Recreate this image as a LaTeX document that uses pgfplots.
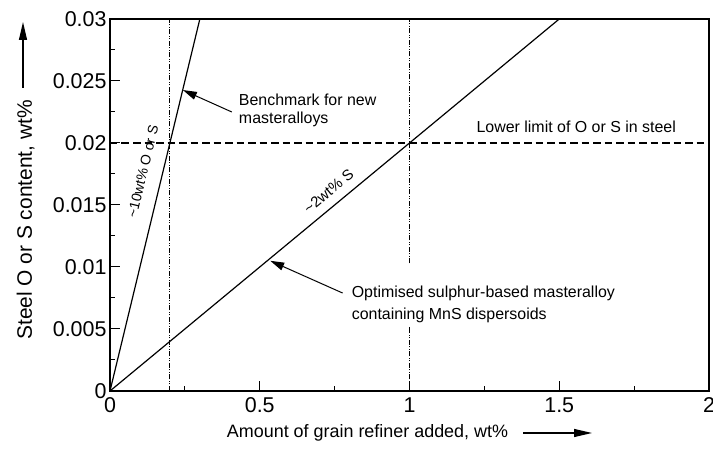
\documentclass[border=0pt]{standalone}
\usepackage{fontspec}
\setmainfont{Liberation Sans}
\usepackage{pgfplots}
\pgfplotsset{compat=1.18}
\usetikzlibrary{arrows.meta}

\begin{document}
\begin{tikzpicture}
\begin{axis}[
  name=ax,
  scale only axis,
  width=599bp, height=372bp,
  xmin=0, xmax=2, ymin=0, ymax=0.03,
  xtick={0,0.5,1,1.5,2}, xticklabels={0,0.5,1,1.5,2},
  ytick={0,0.005,0.01,0.015,0.02,0.025,0.03},
  yticklabels={0,0.005,0.01,0.015,0.02,0.025,0.03},
  scaled y ticks=false, scaled x ticks=false,
  minor x tick num=1, minor y tick num=1,
  tick align=inside, xtick pos=bottom, ytick pos=left,
  major tick length=10bp, minor tick length=5bp,
  tick style={line width=1bp, black},
  axis line style={line width=1.3bp},
  ticklabel style={font=\fontsize{21.5}{24}\selectfont},
  xticklabel style={yshift=-3bp},
  /pgf/number format/assume math mode=true,
  clip=false,
]
% grain-refiner lines through the origin
\addplot[black, line width=1.2bp] coordinates {(0,0) (0.3,0.03)};
\addplot[black, line width=1.2bp] coordinates {(0,0) (1.5,0.03)};
% lower limit of O or S
\addplot[black, line width=1.1bp, dash pattern=on 7.5bp off 4bp] coordinates {(0,0.02) (2,0.02)};
% required additions
\addplot[black, line width=1.1bp, dash pattern=on 5bp off 1.5bp on 1bp off 1.5bp on 1bp off 1.5bp] coordinates {(0.2,0) (0.2,0.03)};
\addplot[black, line width=1.1bp, dash pattern=on 5bp off 1.5bp on 1bp off 1.5bp on 1bp off 1.5bp] coordinates {(1,0) (1,0.0052)};
\addplot[black, line width=1.1bp, dash pattern=on 5bp off 1.5bp on 1bp off 1.5bp on 1bp off 1.5bp] coordinates {(1,0.0103) (1,0.03)};

% annotations
\node[anchor=west, align=left, inner sep=0, font=\fontsize{16}{18}\selectfont]
  at (axis cs:0.43,0.02266) {Benchmark for new\\masteralloys};
\draw[black, line width=1bp, -{Triangle[length=14bp,width=8bp]}]
  (axis cs:0.4067,0.0225) -- (axis cs:0.2433,0.02427);
\node[anchor=base west, inner sep=0, font=\fontsize{16}{18}\selectfont]
  at (axis cs:1.2233,0.020806) {Lower limit of O or S in steel};
\node[anchor=north west, align=left, inner sep=0, font=\fontsize{16}{22}\selectfont]
  at (axis cs:0.8067,0.00848) {Optimised sulphur-based masteralloy\\containing MnS dispersoids};
\draw[black, line width=1bp, -{Triangle[length=14bp,width=8bp]}]
  (axis cs:0.7767,0.0079) -- (axis cs:0.535,0.0105);
\node[rotate=76.4, inner sep=0, font=\fontsize{14}{16}\selectfont]
  at (axis cs:0.11,0.0177) {\textasciitilde10wt\% O or S};
\node[rotate=39.6, inner sep=0, font=\fontsize{15}{17}\selectfont]
  at (axis cs:0.73,0.0161) {\textasciitilde2wt\% S};
\end{axis}

\begin{scope}[shift={(ax.south west)}, x=1bp, y=-1bp, shift={(-110,-391)}]
  \node[rotate=90, anchor=base, inner sep=0, font=\fontsize{21}{24}\selectfont]
    at (32,220) {Steel O or S content, wt\%};
  \draw[black, line width=1.2bp, -{Triangle[length=18bp,width=8bp]}] (23,88) -- (23,22);
  \node[anchor=base, inner sep=0, font=\fontsize{18}{22}\selectfont]
    at (367.5,438) {Amount of grain refiner added, wt\%};
  \draw[black, line width=1.2bp, -{Triangle[length=18bp,width=8bp]}] (523,433) -- (592,433);
  \pgfresetboundingbox
  \path[use as bounding box] (0,0) rectangle (713,450);
\end{scope}
\end{tikzpicture}
\end{document}
